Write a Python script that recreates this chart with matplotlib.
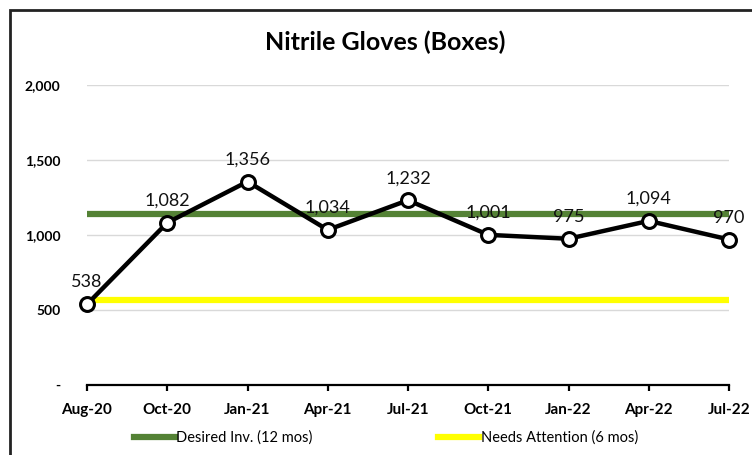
import matplotlib.pyplot as plt
from matplotlib.lines import Line2D
from matplotlib.patches import Rectangle

months = ["Aug-20", "Oct-20", "Jan-21", "Apr-21", "Jul-21", "Oct-21", "Jan-22", "Apr-22", "Jul-22"]
boxes = [538, 1082, 1356, 1034, 1232, 1001, 975, 1094, 970]
desired = 1140
attention = 570
yticks = [0, 500, 1000, 1500, 2000]
ylabels = ["-", "500", "1,000", "1,500", "2,000"]

plt.rcParams['font.family'] = ['Lato', 'DejaVu Sans']

W, H = 752, 455
fig = plt.figure(figsize=(W / 100, H / 100), dpi=100)
ax = fig.add_axes([87 / W, (H - 385) / H, (729 - 87) / W, 300 / H])

x = list(range(len(months)))
ax.plot([0, len(months) - 1], [desired, desired], color='#548235', lw=4.5, solid_capstyle='butt', zorder=2)
ax.plot([0, len(months) - 1], [attention, attention], color='#ffff00', lw=4.5, solid_capstyle='butt', zorder=2)
ax.plot(x, boxes, color='black', lw=3.2, marker='o', markersize=10, markerfacecolor='white',
        markeredgecolor='black', markeredgewidth=2.2, clip_on=False, zorder=4)

for xi, v in zip(x, boxes):
    ax.annotate(f"{v:,}", (xi, v), xytext=(0, 10), textcoords='offset points',
                ha='center', va='bottom', fontsize=13, color='#111111', zorder=5)

ax.set_xlim(0, len(months) - 1)
ax.set_ylim(0, 2000)
ax.set_yticks(yticks)
ax.set_yticklabels(ylabels, fontsize=10, fontweight='bold')
ax.set_xticks(x)
ax.set_xticklabels(months, fontsize=11, fontweight='bold')
ax.yaxis.grid(True, color='#d9d9d9', lw=1)
ax.set_axisbelow(True)
for s in ['top', 'right', 'left']:
    ax.spines[s].set_visible(False)
ax.spines['bottom'].set_linewidth(1.6)
ax.tick_params(axis='y', length=0, pad=19)
ax.tick_params(axis='x', direction='out', length=4, width=1.6, pad=9)

fig.text(385 / W, 1 - 42 / H, "Nitrile Gloves (Boxes)", ha='center', va='center',
         fontsize=18, fontweight='bold')

handles = [Line2D([], [], color='#548235', lw=4.5), Line2D([], [], color='#ffff00', lw=4.5)]
fig.legend(handles, ["Desired Inv. (12 mos)", "Needs Attention (6 mos)"], loc='center',
           bbox_to_anchor=(386 / W, 1 - 438 / H), ncol=2, frameon=False, fontsize=10.5,
           handlelength=2.8, handletextpad=0.1, columnspacing=8.6)

fig.patches.append(Rectangle((10 / W, -0.05), 1.1, 1 - 10 / H + 0.05, transform=fig.transFigure,
                             fill=False, edgecolor='#222222', lw=2))

fig.savefig("out.png", dpi=100)
